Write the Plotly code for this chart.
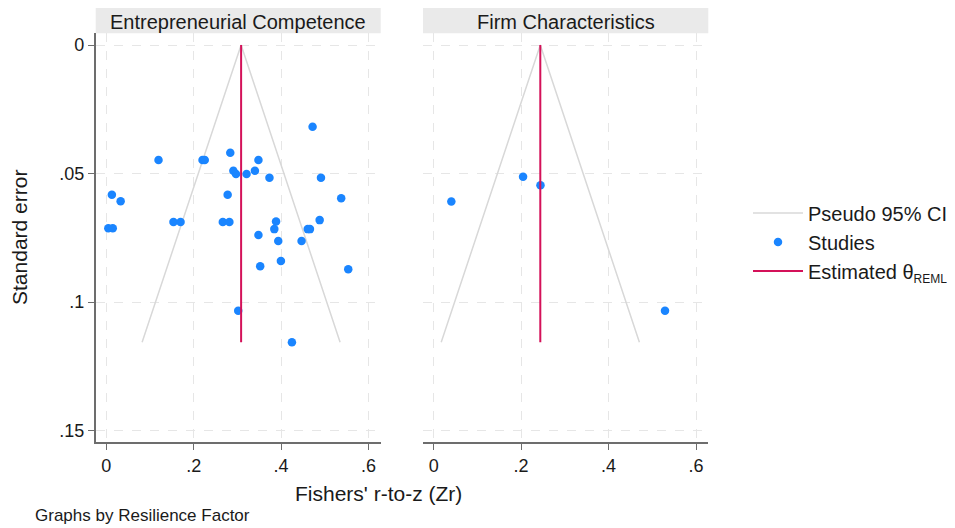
import plotly.graph_objects as go

# ---------------- data ----------------
panel_labels = ["Entrepreneurial Competence", "Firm Characteristics"]

left_zr = [0.1195, 0.2202, 0.2253, 0.2837, 0.3482, 0.2908, 0.2968, 0.3210, 0.3401,
           0.3734, 0.0127, 0.0328, 0.2777, 0.0046, 0.0147, 0.1537, 0.1699, 0.2666,
           0.2817, 0.3482, 0.3885, 0.3845, 0.3935, 0.4721, 0.4913, 0.5376, 0.4883,
           0.4611, 0.4661, 0.4469, 0.3522, 0.3996, 0.5537, 0.3019, 0.4248]
left_se = [0.0447, 0.0447, 0.0447, 0.0419, 0.0447, 0.0489, 0.0502, 0.0502, 0.0489,
           0.0516, 0.0582, 0.0608, 0.0582, 0.0713, 0.0713, 0.0688, 0.0688, 0.0688,
           0.0688, 0.0739, 0.0686, 0.0716, 0.0762, 0.0318, 0.0516, 0.0596, 0.0681,
           0.0716, 0.0716, 0.0762, 0.0860, 0.0840, 0.0872, 0.1033, 0.1156]

right_zr = [0.0405, 0.2045, 0.2443, 0.5290]
right_se = [0.0609, 0.0512, 0.0545, 0.1033]

theta_reml = [0.3085, 0.2439]

x_tickvals = [0, 0.2, 0.4, 0.6]
x_ticktext = ["0", ".2", ".4", ".6"]
y_tickvals = [0, 0.05, 0.1, 0.15]
y_ticktext = ["0", ".05", ".1", ".15"]

z_crit = 1.96
se_max = max(left_se + right_se)

# ---------------- styling ----------------
FONT = "Liberation Sans, Arial, sans-serif"
TXT = "#1a1a1a"
BLUE = "#1a85ff"
RED = "#d41159"
CI_COL = "#d8d8d8"
AXIS_COL = "#6d6d6d"
GRID_COL = "#e6e6e6"

# the page body adds an 8px offset; work in page pixels and convert
OFF = 8
W, H = 955 - OFF, 528 - OFF
def px(x):
    return (x - OFF) / W
def py(y):
    return 1 - (y - OFF) / H

x_domains = [[px(95.7), px(380.7)], [px(423.0), px(708.3)]]
y_domain = [py(442.3), py(33.3)]
x_range = [-0.0243, 0.628]
y_range = [0.1545, -0.00455]

fig = go.Figure()
series = [(left_zr, left_se), (right_zr, right_se)]
for i, (zr, se) in enumerate(series):
    xa = "x" if i == 0 else "x2"
    ya = "y" if i == 0 else "y2"
    t = theta_reml[i]
    fig.add_trace(go.Scatter(
        x=[t - z_crit * se_max, t, t + z_crit * se_max], y=[se_max, 0, se_max],
        mode="lines", line=dict(color=CI_COL, width=1.5),
        name="Pseudo 95% CI", showlegend=(i == 0), legendrank=1,
        xaxis=xa, yaxis=ya, hoverinfo="skip"))
    fig.add_trace(go.Scatter(
        x=zr, y=se, mode="markers",
        marker=dict(color=BLUE, size=8.5, line=dict(width=0)),
        name="Studies", showlegend=(i == 0), legendrank=2,
        xaxis=xa, yaxis=ya))
    fig.add_trace(go.Scatter(
        x=[t, t], y=[0, se_max], mode="lines",
        line=dict(color=RED, width=2),
        name="Estimated θ<sub><span style='font-size:12px'>REML</span></sub>",
        showlegend=(i == 0), legendrank=3,
        xaxis=xa, yaxis=ya))

TICK_SIZE = 18
xaxis_common = dict(
    range=x_range, tickvals=x_tickvals, ticktext=x_ticktext,
    showgrid=True, gridcolor=GRID_COL, griddash="dash", gridwidth=1,
    showline=True, linecolor=AXIS_COL, linewidth=1.5,
    ticks="outside", ticklen=6, tickwidth=1.2, tickcolor=AXIS_COL,
    tickfont=dict(family=FONT, size=TICK_SIZE, color=TXT),
    zeroline=False, automargin=False, fixedrange=True)
yaxis_common = dict(
    range=y_range, tickvals=y_tickvals, ticktext=y_ticktext,
    showgrid=True, gridcolor=GRID_COL, griddash="dash", gridwidth=1,
    zeroline=False, automargin=False, fixedrange=True, domain=y_domain)

fig.update_layout(
    width=W, height=H,
    margin=dict(l=0, r=0, t=0, b=0),
    paper_bgcolor="white", plot_bgcolor="white",
    font=dict(family=FONT, color=TXT),
    xaxis=dict(domain=x_domains[0], anchor="y", **xaxis_common),
    xaxis2=dict(domain=x_domains[1], anchor="y2", **xaxis_common),
    yaxis=dict(anchor="x", showline=True, linecolor=AXIS_COL, linewidth=1.5,
               ticks="outside", ticklen=6, tickwidth=1.2, tickcolor=AXIS_COL,
               tickfont=dict(family=FONT, size=TICK_SIZE, color=TXT), **yaxis_common),
    yaxis2=dict(anchor="x2", showline=False, showticklabels=False, ticks="",
                **yaxis_common),
    legend=dict(x=px(748), y=py(242), xanchor="left", yanchor="middle",
                font=dict(family=FONT, size=20, color=TXT),
                bgcolor="rgba(0,0,0,0)", itemwidth=50),
    showlegend=True,
)

shapes = []
annotations = []
for i, lab in enumerate(panel_labels):
    d = x_domains[i]
    shapes.append(dict(type="rect", xref="paper", yref="paper",
                       x0=d[0], x1=d[1], y0=py(33.3), y1=py(8),
                       fillcolor="#eaeaea", line=dict(width=0), layer="below"))
    annotations.append(dict(text=lab, xref="paper", yref="paper",
                            x=(d[0] + d[1]) / 2, y=py(21.5),
                            xanchor="center", yanchor="middle", showarrow=False,
                            font=dict(family=FONT, size=20, color=TXT)))
annotations.append(dict(text="Standard error", xref="paper", yref="paper",
                        x=px(19), y=py(238), textangle=-90, showarrow=False,
                        xanchor="center", yanchor="middle",
                        font=dict(family=FONT, size=21, color=TXT)))
annotations.append(dict(text="Fishers' r-to-z (Zr)", xref="paper", yref="paper",
                        x=px(378), y=py(493), showarrow=False,
                        xanchor="center", yanchor="middle",
                        font=dict(family=FONT, size=21, color=TXT)))
annotations.append(dict(text="Graphs by Resilience Factor", xref="paper", yref="paper",
                        x=px(33), y=py(515), showarrow=False,
                        xanchor="left", yanchor="middle",
                        font=dict(family=FONT, size=17, color=TXT)))
fig.update_layout(shapes=shapes, annotations=annotations)

fig.write_html("out.html")
